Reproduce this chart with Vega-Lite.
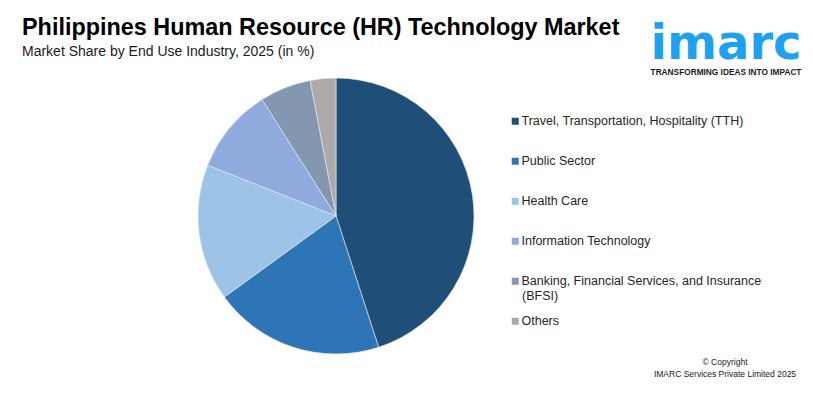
{
  "$schema": "https://vega.github.io/schema/vega-lite/v6.json",
  "width": 802,
  "height": 390,
  "autosize": {"type": "none"},
  "padding": {"left": 3, "top": 3, "right": 8, "bottom": 5},
  "background": "white",
  "config": {
    "view": {"fill": "#dae3f3", "stroke": null},
    "font": "Liberation Sans"
  },
  "title": {
    "text": "Philippines Human Resource (HR) Technology Market",
    "subtitle": "Market Share by End Use Industry, 2025 (in %)",
    "anchor": "start",
    "frame": "group",
    "orient": "top",
    "offset": -57,
    "dx": 19,
    "font": "Liberation Sans",
    "fontSize": 23.4,
    "fontWeight": "bold",
    "color": "#000000",
    "subtitleFont": "Liberation Sans",
    "subtitleFontSize": 14,
    "subtitleColor": "#1a1a1a",
    "subtitlePadding": 5
  },
  "layer": [
    {
      "data": {
        "values": [
          {"industry": "Travel, Transportation, Hospitality (TTH)", "share": 45, "order": 1},
          {"industry": "Public Sector", "share": 20, "order": 2},
          {"industry": "Health Care", "share": 16, "order": 3},
          {"industry": "Information Technology", "share": 10, "order": 4},
          {"industry": "Banking, Financial Services, and Insurance (BFSI)", "share": 6, "order": 5},
          {"industry": "Others", "share": 3, "order": 6}
        ]
      },
      "mark": {"type": "arc", "outerRadius": 138, "x": 333, "y": 213, "stroke": "#e4ebf6", "strokeWidth": 0.6},
      "encoding": {
        "theta": {"field": "share", "type": "quantitative", "stack": true},
        "order": {"field": "order", "type": "quantitative"},
        "color": {
          "field": "industry",
          "type": "nominal",
          "sort": null,
          "scale": {
            "domain": ["Travel, Transportation, Hospitality (TTH)", "Public Sector", "Health Care", "Information Technology", "Banking, Financial Services, and Insurance (BFSI)", "Others"],
            "range": ["#1f4e79", "#2e75b6", "#9dc3e6", "#8faadc", "#8497b0", "#aeaaaa"]
          },
          "legend": {
            "orient": "none",
            "legendX": 506,
            "legendY": 112,
            "title": null,
            "padding": 0,
            "symbolType": "square",
            "symbolSize": 49,
            "symbolStrokeWidth": 0,
            "labelFont": "Liberation Sans",
            "labelFontSize": 12.5,
            "labelColor": "#262626",
            "labelOffset": 0,
            "labelLimit": 320,
            "rowPadding": 27,
            "labelExpr": "datum.label == 'Banking, Financial Services, and Insurance (BFSI)' ? 'Banking, Financial Services, and Insurance' : datum.label"
          }
        }
      }
    },
    {
      "data": {"values": [{"t": "(BFSI)"}]},
      "mark": {"type": "text", "x": 519, "y": 293, "align": "left", "baseline": "middle", "fontSize": 12.5, "color": "#262626", "font": "Liberation Sans"},
      "encoding": {"text": {"field": "t"}}
    },
    {
      "data": {"values": [{"t": "imarc"}]},
      "mark": {"type": "text", "x": 723, "y": 56, "align": "center", "baseline": "alphabetic", "fontSize": 48, "fontWeight": "bold", "color": "#1ea1f1", "font": "DejaVu Sans"},
      "encoding": {"text": {"field": "t"}}
    },
    {
      "data": {"values": [{"t": "TRANSFORMING IDEAS INTO IMPACT"}]},
      "mark": {"type": "text", "x": 723, "y": 71.5, "align": "center", "baseline": "alphabetic", "fontSize": 8.3, "fontWeight": "bold", "color": "#1a1a1a", "font": "Liberation Sans"},
      "encoding": {"text": {"field": "t"}}
    },
    {
      "data": {"values": [{"t": "© Copyright"}]},
      "mark": {"type": "text", "x": 722, "y": 359, "align": "center", "baseline": "middle", "fontSize": 8.5, "color": "#1a1a1a", "font": "Liberation Sans"},
      "encoding": {"text": {"field": "t"}}
    },
    {
      "data": {"values": [{"t": "IMARC Services Private Limited 2025"}]},
      "mark": {"type": "text", "x": 722, "y": 371, "align": "center", "baseline": "middle", "fontSize": 8.5, "color": "#1a1a1a", "font": "Liberation Sans"},
      "encoding": {"text": {"field": "t"}}
    }
  ]
}
